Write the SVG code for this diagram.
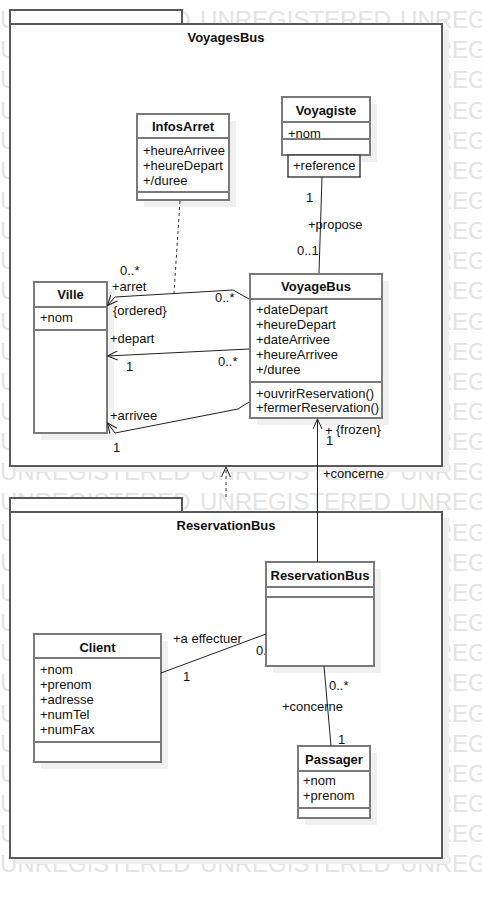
<svg xmlns="http://www.w3.org/2000/svg" width="482" height="898" viewBox="0 0 482 898">
<defs>
<style>
.t{font-family:"Liberation Sans",Arial,sans-serif;font-size:13px;fill:#111}
.b{font-weight:bold;text-anchor:middle}
.wm{font-family:"Liberation Sans",Arial,sans-serif;font-size:24px;fill:#e3e3e3;word-spacing:2.7px}
.pkg{fill:#fff;stroke:#595959;stroke-width:2}
.cls{fill:#fff;stroke:#7a7a7a;stroke-width:2}
.sep{stroke:#7a7a7a;stroke-width:2}
.sh{fill:#f0f0f0}
.ln{fill:none;stroke:#222;stroke-width:1}
.dash{fill:none;stroke:#333;stroke-width:1;stroke-dasharray:3 3}
</style>
<marker id="arr" viewBox="0 0 11 10" refX="10.5" refY="5" markerWidth="11" markerHeight="10" markerUnits="userSpaceOnUse" orient="auto">
<path d="M0.5,0.5 L10.5,5 L0.5,9.5" fill="none" stroke="#222" stroke-width="1"/>
</marker>
<clipPath id="clipRB"><rect x="0" y="630" width="265" height="40"/></clipPath>
</defs>
<rect width="482" height="898" fill="#fff"/>
<g id="watermark">
<text class="wm" x="0" y="28">UNREGISTERED UNREGISTERED UNREG</text>
<text class="wm" x="0" y="58.2">U</text><text class="wm" x="434.7" y="58.2">REG</text>
<text class="wm" x="0" y="88.3">U</text><text class="wm" x="434.7" y="88.3">REG</text>
<text class="wm" x="0" y="118.5">U</text><text class="wm" x="434.7" y="118.5">REG</text>
<text class="wm" x="0" y="148.6">U</text><text class="wm" x="434.7" y="148.6">REG</text>
<text class="wm" x="0" y="178.8">U</text><text class="wm" x="434.7" y="178.8">REG</text>
<text class="wm" x="0" y="208.9">U</text><text class="wm" x="434.7" y="208.9">REG</text>
<text class="wm" x="0" y="239.1">U</text><text class="wm" x="434.7" y="239.1">REG</text>
<text class="wm" x="0" y="269.2">U</text><text class="wm" x="434.7" y="269.2">REG</text>
<text class="wm" x="0" y="299.4">U</text><text class="wm" x="434.7" y="299.4">REG</text>
<text class="wm" x="0" y="329.5">U</text><text class="wm" x="434.7" y="329.5">REG</text>
<text class="wm" x="0" y="359.7">U</text><text class="wm" x="434.7" y="359.7">REG</text>
<text class="wm" x="0" y="389.8">U</text><text class="wm" x="434.7" y="389.8">REG</text>
<text class="wm" x="0" y="420">U</text><text class="wm" x="434.7" y="420">REG</text>
<text class="wm" x="0" y="450.1">U</text><text class="wm" x="434.7" y="450.1">REG</text>
<text class="wm" x="0" y="480.3">UNREGISTERED UNREGISTERED UNREG</text>
<text class="wm" x="0" y="510.4">UNREGISTERED UNREGISTERED UNREG</text>
<text class="wm" x="0" y="540.6">U</text><text class="wm" x="434.7" y="540.6">REG</text>
<text class="wm" x="0" y="570.7">U</text><text class="wm" x="434.7" y="570.7">REG</text>
<text class="wm" x="0" y="600.9">U</text><text class="wm" x="434.7" y="600.9">REG</text>
<text class="wm" x="0" y="631">U</text><text class="wm" x="434.7" y="631">REG</text>
<text class="wm" x="0" y="661.2">U</text><text class="wm" x="434.7" y="661.2">REG</text>
<text class="wm" x="0" y="691.3">U</text><text class="wm" x="434.7" y="691.3">REG</text>
<text class="wm" x="0" y="721.5">U</text><text class="wm" x="434.7" y="721.5">REG</text>
<text class="wm" x="0" y="751.6">U</text><text class="wm" x="434.7" y="751.6">REG</text>
<text class="wm" x="0" y="781.8">U</text><text class="wm" x="434.7" y="781.8">REG</text>
<text class="wm" x="0" y="811.9">U</text><text class="wm" x="434.7" y="811.9">REG</text>
<text class="wm" x="0" y="842.1">U</text><text class="wm" x="434.7" y="842.1">REG</text>
<text class="wm" x="0" y="872.2">UNREGISTERED UNREGISTERED UNREG</text>
</g>
<g id="pkg-VoyagesBus">
<rect class="sh" x="16" y="30" width="433" height="442"/>
<rect class="pkg" x="10" y="10" width="172" height="14"/>
<rect class="pkg" x="10" y="24" width="432" height="442"/>
<text class="t b" x="226" y="42">VoyagesBus</text>
</g>
<g id="pkg-ReservationBus">
<rect class="sh" x="16" y="518" width="433" height="346"/>
<rect class="pkg" x="10" y="498" width="172" height="14"/>
<rect class="pkg" x="10" y="512" width="432" height="346"/>
<text class="t b" x="226" y="530">ReservationBus</text>
</g>
<g id="InfosArret">
<rect class="sh" x="144" y="121" width="92" height="86"/>
<rect class="cls" x="137" y="114" width="92" height="86"/>
<line class="sep" x1="137" y1="138" x2="229" y2="138"/>
<line class="sep" x1="137" y1="192" x2="229" y2="192"/>
<text class="t b" x="183" y="131">InfosArret</text>
<text class="t" x="143" y="155">+heureArrivee</text>
<text class="t" x="143" y="170">+heureDepart</text>
<text class="t" x="143" y="185">+/duree</text>
</g>
<g id="Voyagiste">
<rect class="sh" x="289" y="104" width="88" height="58"/>
<rect class="cls" x="282" y="97" width="88" height="58"/>
<line class="sep" x1="282" y1="122" x2="370" y2="122"/>
<line class="sep" x1="282" y1="139" x2="370" y2="139"/>
<text class="t b" x="326" y="114.5">Voyagiste</text>
<text class="t" x="288" y="137.5">+nom</text>
<rect x="288" y="155" width="72" height="22" fill="#fff" stroke="#444" stroke-width="1.5"/>
<text class="t" x="293" y="170">+reference</text>
</g>
<g id="VoyageBus">
<rect class="sh" x="257" y="281" width="132" height="144"/>
<rect class="cls" x="250" y="274" width="132" height="144"/>
<line class="sep" x1="250" y1="299" x2="382" y2="299"/>
<line class="sep" x1="250" y1="382" x2="382" y2="382"/>
<text class="t b" x="316" y="291">VoyageBus</text>
<text class="t" x="256" y="314">+dateDepart</text>
<text class="t" x="256" y="329">+heureDepart</text>
<text class="t" x="256" y="344">+dateArrivee</text>
<text class="t" x="256" y="359">+heureArrivee</text>
<text class="t" x="256" y="374">+/duree</text>
<text class="t" x="256" y="398">+ouvrirReservation()</text>
<text class="t" x="256" y="412">+fermerReservation()</text>
</g>
<g id="Ville">
<rect class="sh" x="41" y="289" width="73" height="151"/>
<rect class="cls" x="34" y="282" width="73" height="151"/>
<line class="sep" x1="34" y1="307" x2="107" y2="307"/>
<line class="sep" x1="34" y1="330" x2="107" y2="330"/>
<text class="t b" x="70.5" y="298.5">Ville</text>
<text class="t" x="40" y="321.5">+nom</text>
</g>
<g id="ReservationBus">
<rect class="sh" x="273" y="569" width="108" height="104"/>
<rect class="cls" x="266" y="562" width="108" height="104"/>
<line class="sep" x1="266" y1="587" x2="374" y2="587"/>
<line class="sep" x1="266" y1="597" x2="374" y2="597"/>
<text class="t b" x="320" y="580">ReservationBus</text>
</g>
<g id="Client">
<rect class="sh" x="41" y="641" width="127" height="128"/>
<rect class="cls" x="34" y="634" width="127" height="128"/>
<line class="sep" x1="34" y1="658" x2="161" y2="658"/>
<line class="sep" x1="34" y1="742" x2="161" y2="742"/>
<text class="t b" x="97.5" y="651.5">Client</text>
<text class="t" x="40" y="673.5">+nom</text>
<text class="t" x="40" y="688.5">+prenom</text>
<text class="t" x="40" y="703.5">+adresse</text>
<text class="t" x="40" y="718.5">+numTel</text>
<text class="t" x="40" y="733.5">+numFax</text>
</g>
<g id="Passager">
<rect class="sh" x="305" y="753" width="72" height="72"/>
<rect class="cls" x="298" y="746" width="72" height="72"/>
<line class="sep" x1="298" y1="771" x2="370" y2="771"/>
<line class="sep" x1="298" y1="808" x2="370" y2="808"/>
<text class="t b" x="334" y="763.5">Passager</text>
<text class="t" x="303" y="785">+nom</text>
<text class="t" x="303" y="800">+prenom</text>
</g>
<g id="connectors">
<path class="dash" d="M226,497 L226,467" marker-end="url(#arr)"/>
<path class="ln" d="M322,177 L319,273"/>
<text class="t" x="306" y="202">1</text>
<text class="t" x="308" y="229">+propose</text>
<text class="t" x="297" y="255">0..1</text>
<path class="dash" d="M180,201 L174,293"/>
<path class="ln" d="M249,299 L233,290 L115,297 L107.5,305.5" marker-end="url(#arr)"/>
<text class="t" x="120" y="275">0..*</text>
<text class="t" x="112" y="291">+arret</text>
<text class="t" x="113" y="315">{ordered}</text>
<text class="t" x="215" y="302">0..*</text>
<path class="ln" d="M249,349 L107.5,356" marker-end="url(#arr)"/>
<text class="t" x="110" y="343">+depart</text>
<text class="t" x="126" y="371">1</text>
<text class="t" x="218" y="366">0..*</text>
<path class="ln" d="M249,402 L238,409 L115,433 L107.5,423" marker-end="url(#arr)"/>
<text class="t" x="110" y="420">+arrivee</text>
<text class="t" x="113" y="452">1</text>
<path class="ln" d="M317.5,562 L317.5,419" marker-end="url(#arr)"/>
<text class="t" x="325" y="435">+</text>
<text class="t" x="336" y="434">{frozen}</text>
<text class="t" x="326" y="445">1</text>
<text class="t" x="323" y="478">+concerne</text>
<path class="ln" d="M161,673 L266,634"/>
<text class="t" x="173" y="642.5">+a effectuer</text>
<text class="t" x="183" y="681">1</text>
<text class="t" x="256" y="655" clip-path="url(#clipRB)">0..*</text>
<path class="ln" d="M324,666 L331,746"/>
<text class="t" x="329" y="690">0..*</text>
<text class="t" x="282" y="711">+concerne</text>
<text class="t" x="338" y="744">1</text>
</g>
</svg>
